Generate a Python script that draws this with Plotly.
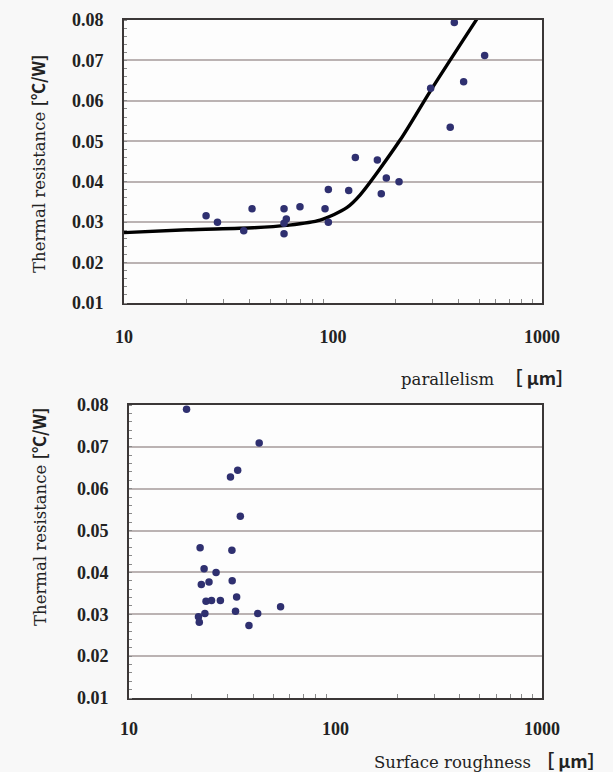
import plotly.graph_objects as go

# ---- data ----
par_x = [24.7, 28.0, 37.4, 41.0, 58.3, 59.8, 58.3, 58.3, 69.5, 91.6, 95.0, 95.0,
         118.9, 127.9, 163.0, 179.9, 170.2, 207.0, 293.3, 363.8, 380.6, 421.7, 531.6]
par_r = [0.0316, 0.0300, 0.0279, 0.0333, 0.0333, 0.0308, 0.0297, 0.0271, 0.0338, 0.0333,
         0.0381, 0.0300, 0.0378, 0.0460, 0.0454, 0.0409, 0.0370, 0.0400, 0.0631, 0.0535,
         0.0794, 0.0647, 0.0712]

fit_x = [10, 20, 41.6, 60, 86.7, 116.4, 134.6, 209.4, 291.2, 487.6]
fit_r = [0.0274, 0.0281, 0.0286, 0.0292, 0.0305, 0.0336, 0.0367, 0.0503, 0.0623, 0.0802]

rough_x = [19.0, 42.7, 33.6, 31.0, 34.6, 22.1, 31.5, 23.1, 26.4, 22.4, 24.4, 31.6,
           23.6, 25.1, 27.7, 33.2, 54.2, 32.8, 42.0, 23.3, 21.7, 21.9, 38.1]
rough_r = [0.0790, 0.0709, 0.0644, 0.0628, 0.0534, 0.0459, 0.0453, 0.0409, 0.0400, 0.0371,
           0.0377, 0.0380, 0.0331, 0.0333, 0.0333, 0.0341, 0.0318, 0.0307, 0.0302, 0.0302,
           0.0294, 0.0281, 0.0273]

x_tickvals = [10, 100, 1000]
x_ticktext = ["10", "100", "1000"]
y_tickvals = [0.01, 0.02, 0.03, 0.04, 0.05, 0.06, 0.07, 0.08]
y_ticktext = ["0.01", "0.02", "0.03", "0.04", "0.05", "0.06", "0.07", "0.08"]

W, H = 613, 772
MARK = "#2f3070"
TICKFONT = dict(family="Liberation Serif", size=18, color="#222", weight="bold")
TITLEFONT = dict(family="DejaVu Serif", size=16.5, color="#222")
GOTHIC = "font-family:Noto Sans CJK JP;font-weight:bold;font-size:18px"
NB = "\u00a0"

minor_x = [m * d for d in (10, 100) for m in range(2, 10)]

fig = go.Figure()
fig.add_trace(go.Scatter(x=fit_x, y=fit_r, mode="lines", line=dict(color="black", width=3.4, shape="spline", smoothing=0.8),
                         xaxis="x", yaxis="y", showlegend=False))
fig.add_trace(go.Scatter(x=par_x, y=par_r, mode="markers", marker=dict(color=MARK, size=7.5),
                         xaxis="x", yaxis="y", showlegend=False, cliponaxis=False))
fig.add_trace(go.Scatter(x=rough_x, y=rough_r, mode="markers", marker=dict(color=MARK, size=7.5),
                         xaxis="x2", yaxis="y2", showlegend=False, cliponaxis=False))


def xax(domain, anchor, standoff):
    return dict(domain=domain, anchor=anchor, type="log", range=[1, 3], automargin=False,
                tickmode="array", tickvals=x_tickvals, ticktext=x_ticktext,
                tickfont=TICKFONT, ticks="", showgrid=False, zeroline=False,
                showline=True, linecolor="#3b3737", linewidth=1.6, mirror=True,
                ticklabelstandoff=standoff,
                minor=dict(tickmode="array", tickvals=minor_x, ticks="inside", ticklen=4,
                           tickcolor="#8a8a8a", tickwidth=1, showgrid=False))


def yax(domain, anchor):
    return dict(domain=domain, anchor=anchor, range=[0.01, 0.08], automargin=False,
                tickmode="array", tickvals=y_tickvals, ticktext=y_ticktext,
                tickfont=TICKFONT, ticks="", showgrid=True, gridcolor="#bbb3b3", gridwidth=1.6,
                zeroline=False, showline=True, linecolor="#3b3737", linewidth=1.6, mirror=True,
                ticklabelstandoff=15,
                minor=dict(dtick=0.002, tick0=0.0, ticks="inside", ticklen=3,
                           tickcolor="#8a8a8a", tickwidth=1, showgrid=False))


ytitle = f"Thermal resistance <span style='{GOTHIC};font-size:17px'>[℃/W]</span>"
unit = f"<span style='{GOTHIC}'>［{NB}μm］</span>"

fig.update_layout(
    width=W, height=H, margin=dict(l=0, r=0, t=0, b=0, autoexpand=False),
    paper_bgcolor="#f8f8f8", plot_bgcolor="#fdfdfd",
    xaxis=xax([124 / W, 542 / W], "y", 17),
    yaxis=yax([1 - 303 / H, 1 - 20 / H], "x"),
    xaxis2=xax([129 / W, 542 / W], "y2", 14),
    yaxis2=yax([1 - 698 / H, 1 - 405 / H], "x2"),
    annotations=[
        dict(text=ytitle, xref="paper", yref="paper", x=38 / W, y=1 - 164 / H, textangle=-90,
             showarrow=False, font=TITLEFONT, xanchor="center", yanchor="middle"),
        dict(text=ytitle, xref="paper", yref="paper", x=38 / W, y=1 - 517 / H, textangle=-90,
             showarrow=False, font=TITLEFONT, xanchor="center", yanchor="middle"),
        dict(text=f"parallelism{NB}{NB}" + unit,
             xref="paper", yref="paper", x=399 / W, y=1 - 377 / H,
             showarrow=False, font=TITLEFONT, xanchor="left", yanchor="middle"),
        dict(text=f"Surface roughness{NB}" + unit,
             xref="paper", yref="paper", x=372 / W, y=1 - 760 / H,
             showarrow=False, font=TITLEFONT, xanchor="left", yanchor="middle"),
    ],
)

fig.write_html("out.html")
